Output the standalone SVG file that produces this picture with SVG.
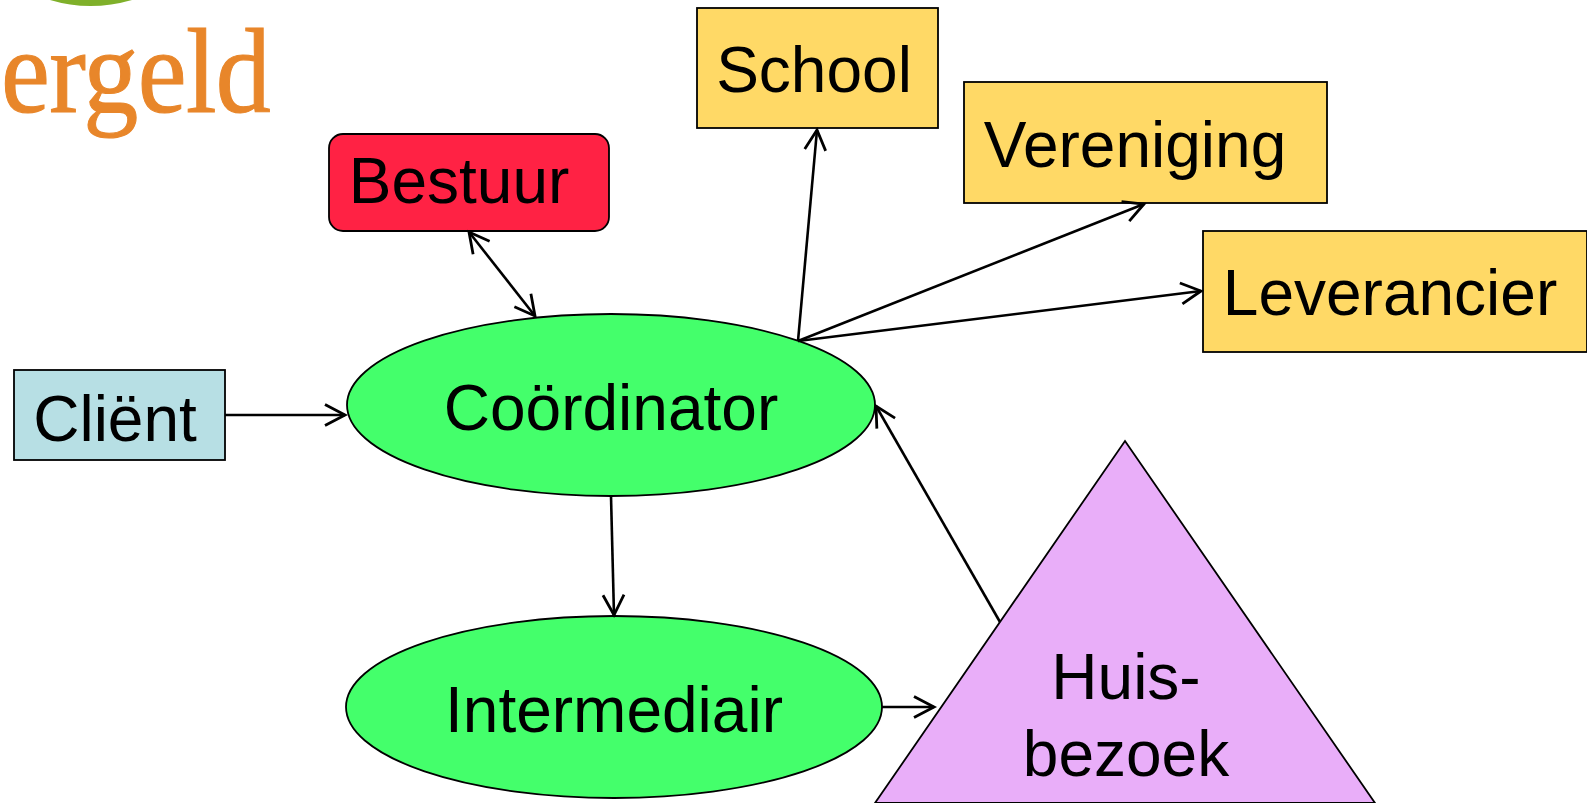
<svg xmlns="http://www.w3.org/2000/svg" width="1587" height="803" viewBox="0 0 1587 803">
<style>
text{font-family:"Liberation Sans",Arial,sans-serif;font-size:64px;fill:#000;text-anchor:middle}
.n{stroke:#000;stroke-width:1.8}
.y{fill:#ffd966}
.c{fill:none;stroke:#000;stroke-width:2.6}
text.logo{font-family:"Liberation Serif",serif;font-size:110px;fill:#e8862a;stroke:#e8862a;stroke-width:1;text-anchor:start;letter-spacing:-0.6px}
</style>
<defs>
<marker id="a" viewBox="0 0 28 28" refX="24" refY="14" markerWidth="28" markerHeight="28" markerUnits="userSpaceOnUse" orient="auto-start-reverse"><path d="M4 3.5L24 14L4 24.5" fill="none" stroke="#000" stroke-width="2.8"/></marker>
</defs>
<rect width="1587" height="803" fill="#fff"/>
<g id="logo"><path d="M50 0Q90 12 132 0Z" fill="#7fb02a"/><text class="logo" transform="translate(1 112) scale(1 1.1)">ergeld</text></g>
<g id="school"><rect class="n y" x="697" y="8" width="241" height="120"/><text x="814" y="92">School</text></g>
<g id="vereniging"><rect class="n y" x="964" y="82" width="363" height="121"/><text x="1135" y="167">Vereniging</text></g>
<g id="leverancier"><rect class="n y" x="1203" y="231" width="384" height="121"/><text x="1390" y="315">Leverancier</text></g>
<g id="bestuur"><rect class="n" x="329" y="134" width="280" height="97" rx="14" fill="#ff2244"/><text x="459" y="203">Bestuur</text></g>
<g id="client"><rect class="n" x="14" y="370" width="211" height="90" fill="#b7dfe4"/><text x="115" y="441">Cliënt</text></g>
<g id="coordinator"><ellipse class="n" cx="611" cy="405" rx="264" ry="91" fill="#44ff6b"/><text x="611" y="430">Coördinator</text></g>
<g id="intermediair"><ellipse class="n" cx="614" cy="707" rx="268" ry="91" fill="#44ff6b"/><text x="614" y="732">Intermediair</text></g>
<g id="huisbezoek"><path class="n" d="M1125 441L1375 803H875Z" fill="#e9aef9"/><text x="1126" y="699">Huis-</text><text x="1126" y="776">bezoek</text></g>
<g id="connectors" class="c">
<line x1="225" y1="415" x2="345" y2="415" marker-end="url(#a)"/>
<line x1="469" y1="232" x2="535" y2="316" marker-start="url(#a)" marker-end="url(#a)"/>
<line x1="798" y1="341" x2="817" y2="130" marker-end="url(#a)"/>
<line x1="798" y1="341" x2="1144" y2="204" marker-end="url(#a)"/>
<line x1="798" y1="341" x2="1201" y2="291" marker-end="url(#a)"/>
<line x1="611" y1="496" x2="614" y2="615" marker-end="url(#a)"/>
<line x1="882" y1="707" x2="934" y2="707" marker-end="url(#a)"/>
<line x1="1000" y1="622" x2="876" y2="406" marker-end="url(#a)"/>
</g>
</svg>
